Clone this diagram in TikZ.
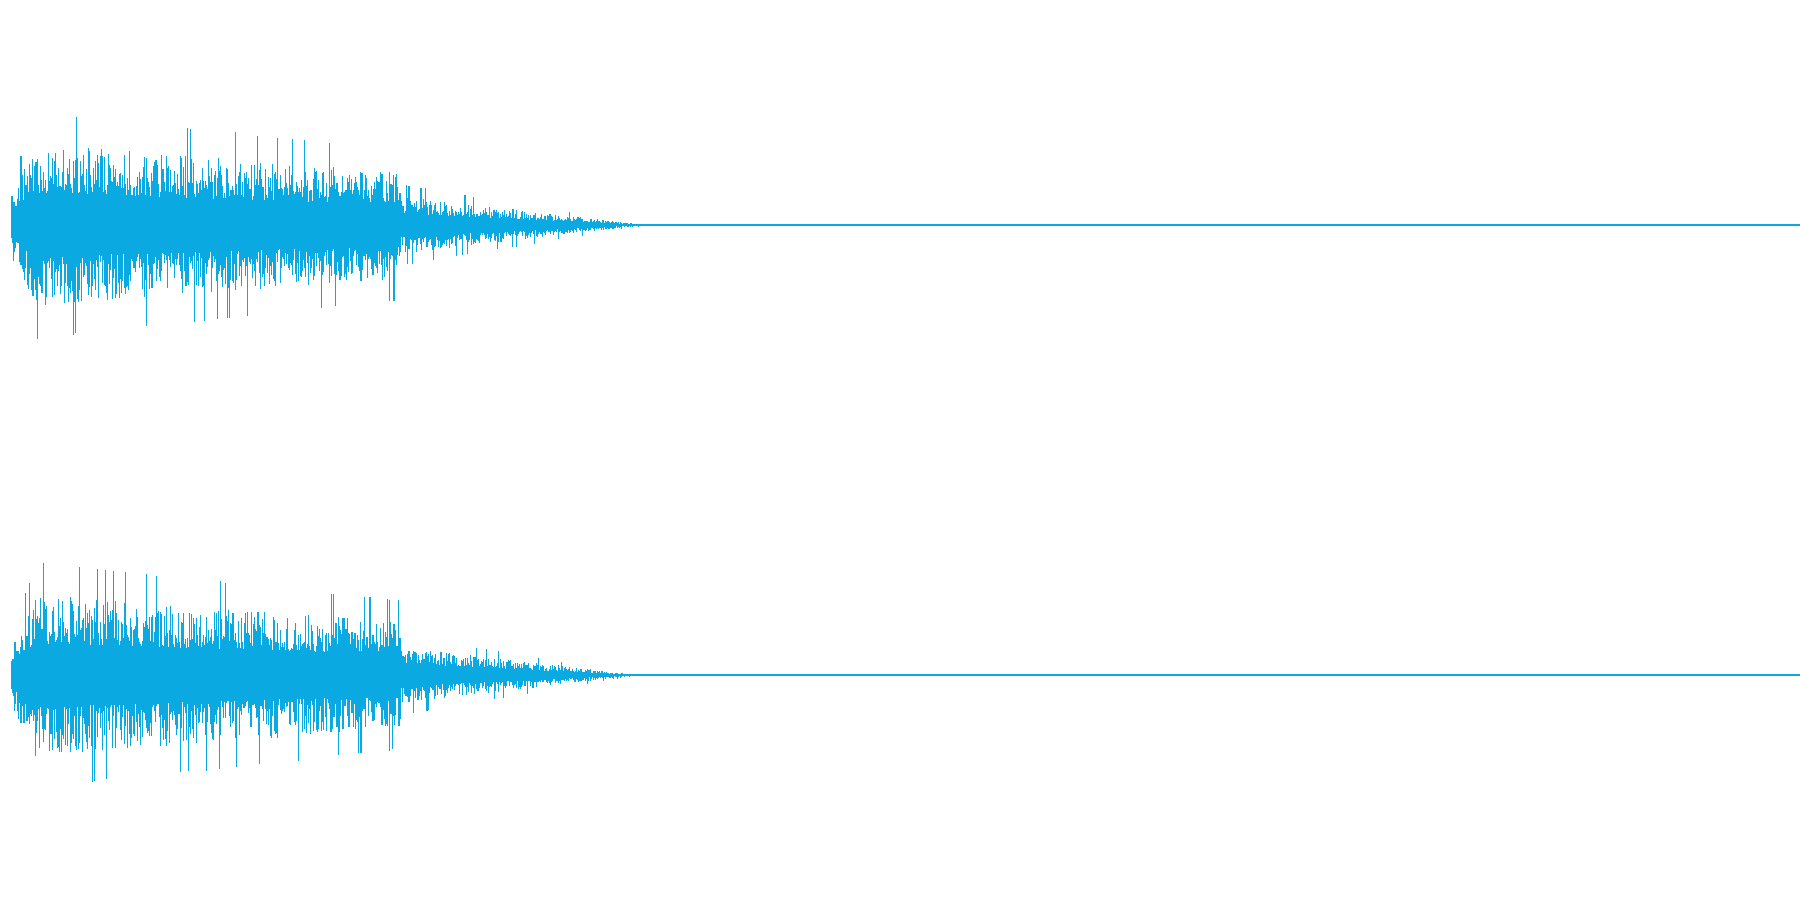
\documentclass[tikz,border=0pt]{standalone}
\definecolor{wave}{HTML}{0AA9E2}
\begin{document}
\begin{tikzpicture}[x=1cm,y=-1cm,wv/.style={draw=wave,line width=0.3pt}]
\useasboundingbox (0,0) rectangle (18,9);
\pgfmathsetseed{7}
\foreach \cy/\endx in {2.25/6.37,6.75/6.3}{
  \draw[wv] (0.12,\cy) -- (18,\cy);
  \foreach \i in {0,...,1050}{
    \pgfmathsetmacro{\xx}{0.12+\i*0.006}
    \pgfmathsetmacro{\env}{\xx<0.35 ? 0.3+1.8*(\xx-0.12) : (\xx<4.0 ? 0.75-0.07*(\xx-0.35) : (\xx<\endx ? 0.26*(\endx-\xx)/(\endx-4.0)+0.01 : 0.01))}
    \pgfmathsetmacro{\ra}{rnd}
    \pgfmathsetmacro{\rb}{rnd}
    \pgfmathsetmacro{\a}{\env*(0.42+0.7*\ra^2+(\ra>0.975 ? 0.4 : 0))}
    \pgfmathsetmacro{\b}{\env*(0.42+0.7*\rb^2+(\rb>0.975 ? 0.4 : 0))}
    \draw[wv] (\xx,\cy-\a) -- (\xx,\cy+\b);
  }
}
\end{tikzpicture}
\end{document}
